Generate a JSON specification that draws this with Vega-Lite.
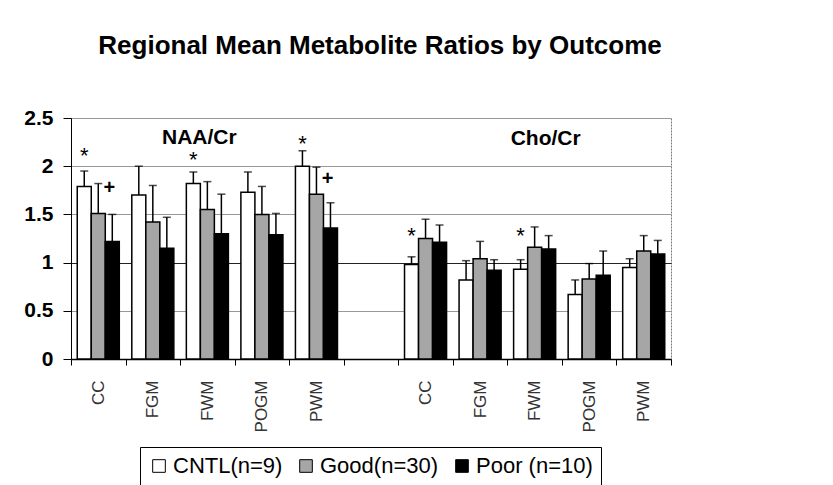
{
  "$schema": "https://vega.github.io/schema/vega-lite/v6.json",
  "width": 600,
  "height": 241,
  "autosize": {"type": "none"},
  "padding": {"left": 71, "top": 118, "right": 162, "bottom": 126},
  "background": "white",
  "title": {
    "text": "Regional Mean Metabolite Ratios by Outcome",
    "font": "Liberation Sans",
    "fontSize": 26,
    "fontWeight": "bold",
    "color": "black",
    "anchor": "middle",
    "frame": "group",
    "baseline": "alphabetic",
    "offset": 27,
    "dx": 9
  },
  "config": {
    "view": {"stroke": "#777", "strokeWidth": 1, "strokeDash": [2, 1]},
    "font": "Liberation Sans"
  },
  "datasets": {
    "barData": [
      {"region": "N_CC", "group": "CNTL(n=9)", "mean": 1.79, "upper": 1.95},
      {"region": "N_CC", "group": "Good(n=30)", "mean": 1.51, "upper": 1.82},
      {"region": "N_CC", "group": "Poor (n=10)", "mean": 1.22, "upper": 1.50},
      {"region": "N_FGM", "group": "CNTL(n=9)", "mean": 1.70, "upper": 2.00},
      {"region": "N_FGM", "group": "Good(n=30)", "mean": 1.42, "upper": 1.80},
      {"region": "N_FGM", "group": "Poor (n=10)", "mean": 1.15, "upper": 1.47},
      {"region": "N_FWM", "group": "CNTL(n=9)", "mean": 1.82, "upper": 1.94},
      {"region": "N_FWM", "group": "Good(n=30)", "mean": 1.55, "upper": 1.84},
      {"region": "N_FWM", "group": "Poor (n=10)", "mean": 1.30, "upper": 1.71},
      {"region": "N_POGM", "group": "CNTL(n=9)", "mean": 1.73, "upper": 1.94},
      {"region": "N_POGM", "group": "Good(n=30)", "mean": 1.50, "upper": 1.79},
      {"region": "N_POGM", "group": "Poor (n=10)", "mean": 1.29, "upper": 1.51},
      {"region": "N_PWM", "group": "CNTL(n=9)", "mean": 2.00, "upper": 2.16},
      {"region": "N_PWM", "group": "Good(n=30)", "mean": 1.71, "upper": 1.99},
      {"region": "N_PWM", "group": "Poor (n=10)", "mean": 1.36, "upper": 1.62},
      {"region": "C_CC", "group": "CNTL(n=9)", "mean": 0.98, "upper": 1.06},
      {"region": "C_CC", "group": "Good(n=30)", "mean": 1.25, "upper": 1.45},
      {"region": "C_CC", "group": "Poor (n=10)", "mean": 1.21, "upper": 1.39},
      {"region": "C_FGM", "group": "CNTL(n=9)", "mean": 0.82, "upper": 1.02},
      {"region": "C_FGM", "group": "Good(n=30)", "mean": 1.04, "upper": 1.22},
      {"region": "C_FGM", "group": "Poor (n=10)", "mean": 0.92, "upper": 1.03},
      {"region": "C_FWM", "group": "CNTL(n=9)", "mean": 0.93, "upper": 1.03},
      {"region": "C_FWM", "group": "Good(n=30)", "mean": 1.16, "upper": 1.37},
      {"region": "C_FWM", "group": "Poor (n=10)", "mean": 1.14, "upper": 1.28},
      {"region": "C_POGM", "group": "CNTL(n=9)", "mean": 0.67, "upper": 0.82},
      {"region": "C_POGM", "group": "Good(n=30)", "mean": 0.83, "upper": 0.99},
      {"region": "C_POGM", "group": "Poor (n=10)", "mean": 0.87, "upper": 1.12},
      {"region": "C_PWM", "group": "CNTL(n=9)", "mean": 0.95, "upper": 1.04},
      {"region": "C_PWM", "group": "Good(n=30)", "mean": 1.12, "upper": 1.28},
      {"region": "C_PWM", "group": "Poor (n=10)", "mean": 1.09, "upper": 1.23}
    ],
    "symData": [
      {"region": "N_CC", "group": "CNTL(n=9)", "sym": "*", "pos": 2.03},
      {"region": "N_FWM", "group": "CNTL(n=9)", "sym": "*", "pos": 1.99},
      {"region": "N_PWM", "group": "CNTL(n=9)", "sym": "*", "pos": 2.16},
      {"region": "C_CC", "group": "CNTL(n=9)", "sym": "*", "pos": 1.20},
      {"region": "C_FWM", "group": "CNTL(n=9)", "sym": "*", "pos": 1.20},
      {"region": "N_CC", "group": "Poor (n=10)", "sym": "+", "pos": 1.71},
      {"region": "N_PWM", "group": "Poor (n=10)", "sym": "+", "pos": 1.80}
    ],
    "labelData": [
      {"region": "N_FWM", "label": "NAA/Cr", "pos": 2.23},
      {"region": "C_FWM", "label": "Cho/Cr", "pos": 2.22}
    ]
  },
  "layer": [
    {
      "data": {"name": "barData"},
      "mark": {"type": "bar", "stroke": "black", "strokeWidth": 1.5},
      "encoding": {
        "x": {
          "field": "region",
          "type": "nominal",
          "sort": null,
          "scale": {
            "domain": ["N_CC", "N_FGM", "N_FWM", "N_POGM", "N_PWM", "gap", "C_CC", "C_FGM", "C_FWM", "C_POGM", "C_PWM"],
            "paddingInner": 0,
            "paddingOuter": 0
          },
          "axis": {
            "title": null,
            "labelAngle": -90,
            "labelExpr": "(datum.value && datum.value != 'gap') ? slice(datum.value + '', 2) : ''",
            "labelFont": "Liberation Sans",
            "labelFontSize": 17,
            "labelColor": "#333",
            "labelPadding": 15,
            "tickBand": "extent",
            "tickSize": 6,
            "tickColor": "black",
            "domainColor": "black",
            "domainWidth": 1.5,
            "grid": false
          }
        },
        "xOffset": {
          "field": "group",
          "type": "nominal",
          "sort": null,
          "scale": {"domain": ["CNTL(n=9)", "Good(n=30)", "Poor (n=10)"], "paddingInner": 0, "paddingOuter": 0.446}
        },
        "y": {
          "field": "mean",
          "type": "quantitative",
          "scale": {"domain": [0, 2.5], "nice": false},
          "axis": {
            "title": null,
            "values": [0, 0.5, 1, 1.5, 2, 2.5],
            "format": "~g",
            "labelFont": "Liberation Sans",
            "labelFontSize": 21,
            "labelFontWeight": "bold",
            "labelColor": "black",
            "labelPadding": 10,
            "tickSize": 8,
            "tickColor": "black",
            "domainColor": "black",
            "grid": true,
            "gridColor": {"condition": {"test": "datum.value === 1", "value": "#222"}, "value": "#999"},
            "gridWidth": 1.2
          }
        },
        "fill": {
          "field": "group",
          "type": "nominal",
          "sort": null,
          "scale": {"domain": ["CNTL(n=9)", "Good(n=30)", "Poor (n=10)"], "range": ["white", "#a6a6a6", "black"]},
          "legend": {
            "title": null,
            "orient": "none",
            "legendX": 69,
            "legendY": 329,
            "direction": "horizontal",
            "strokeColor": "black",
            "fillColor": "white",
            "padding": 8,
            "symbolType": "square",
            "symbolSize": 160,
            "symbolStrokeColor": "black",
            "symbolStrokeWidth": 1,
            "labelFont": "Liberation Sans",
            "labelFontSize": 22,
            "labelColor": "black",
            "labelOffset": 3,
            "columnPadding": 12,
            "labelLimit": 300
          }
        }
      }
    },
    {
      "data": {"name": "barData"},
      "mark": {"type": "rule", "color": "black", "strokeWidth": 1.5},
      "encoding": {
        "x": {"field": "region", "type": "nominal", "sort": null},
        "xOffset": {"field": "group", "type": "nominal", "sort": null},
        "y": {"field": "mean", "type": "quantitative"},
        "y2": {"field": "upper"}
      }
    },
    {
      "data": {"name": "barData"},
      "mark": {"type": "tick", "color": "black", "size": 8, "thickness": 1.5},
      "encoding": {
        "x": {"field": "region", "type": "nominal", "sort": null},
        "xOffset": {"field": "group", "type": "nominal", "sort": null},
        "y": {"field": "upper", "type": "quantitative"}
      }
    },
    {
      "data": {"name": "symData"},
      "transform": [{"filter": "datum.sym == '*'"}],
      "mark": {"type": "text", "fontSize": 22, "color": "black", "baseline": "alphabetic", "align": "center"},
      "encoding": {
        "x": {"field": "region", "type": "nominal", "sort": null},
        "xOffset": {"field": "group", "type": "nominal", "sort": null},
        "y": {"field": "pos", "type": "quantitative"},
        "text": {"field": "sym"}
      }
    },
    {
      "data": {"name": "symData"},
      "transform": [{"filter": "datum.sym == '+'"}],
      "mark": {"type": "text", "fontSize": 20, "fontWeight": "bold", "color": "black", "baseline": "alphabetic", "align": "center", "dx": -3},
      "encoding": {
        "x": {"field": "region", "type": "nominal", "sort": null},
        "xOffset": {"field": "group", "type": "nominal", "sort": null},
        "y": {"field": "pos", "type": "quantitative"},
        "text": {"field": "sym"}
      }
    },
    {
      "data": {"name": "labelData"},
      "transform": [{"filter": "datum.label == 'NAA/Cr'"}],
      "mark": {"type": "text", "fontSize": 21, "fontWeight": "bold", "color": "black", "baseline": "alphabetic", "align": "center", "dx": -8},
      "encoding": {
        "x": {"field": "region", "type": "nominal", "sort": null},
        "y": {"field": "pos", "type": "quantitative"},
        "text": {"field": "label"}
      }
    },
    {
      "data": {"name": "labelData"},
      "transform": [{"filter": "datum.label == 'Cho/Cr'"}],
      "mark": {"type": "text", "fontSize": 21, "fontWeight": "bold", "color": "black", "baseline": "alphabetic", "align": "center", "dx": 11},
      "encoding": {
        "x": {"field": "region", "type": "nominal", "sort": null},
        "y": {"field": "pos", "type": "quantitative"},
        "text": {"field": "label"}
      }
    }
  ]
}
